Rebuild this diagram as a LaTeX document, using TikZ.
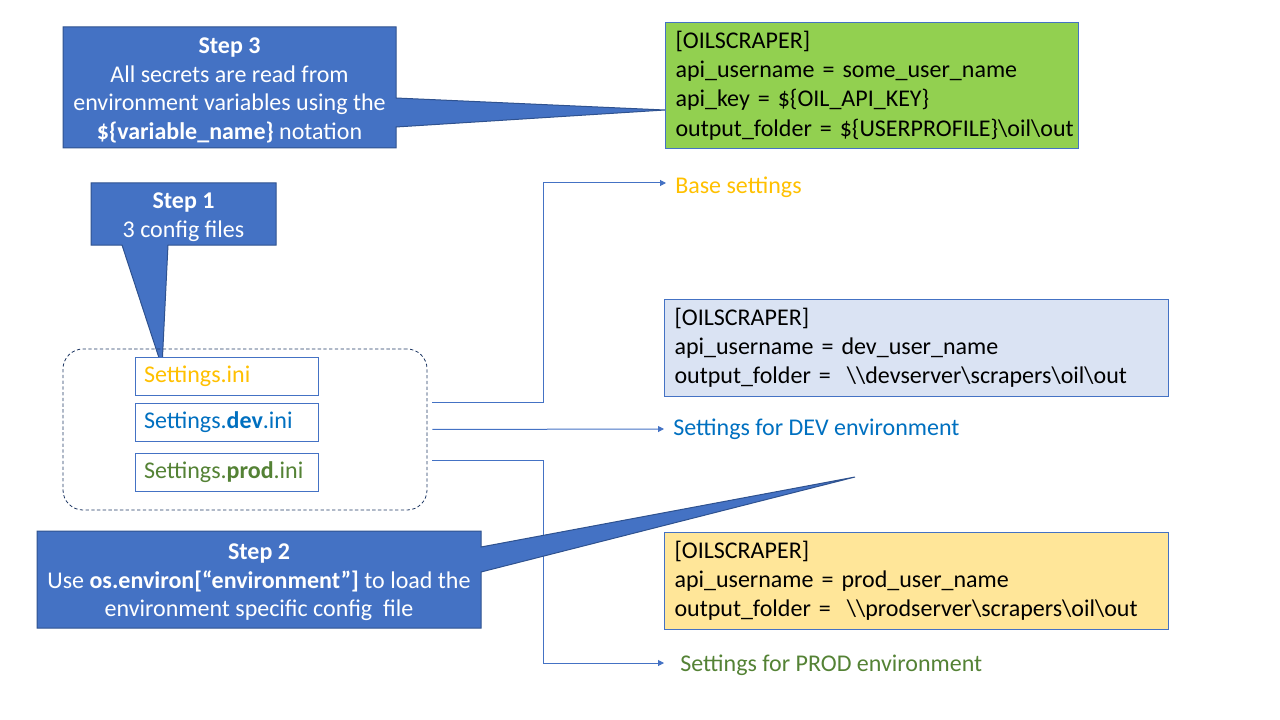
\documentclass[tikz,border=0pt]{standalone}
\usepackage{fontspec}
\setmainfont{Carlito}
\usepackage{xcolor}
\usetikzlibrary{positioning,arrows.meta,backgrounds}
\definecolor{callblue}{HTML}{4472C4}
\definecolor{callline}{HTML}{2F528F}
\definecolor{basegold}{HTML}{FFC000}
\definecolor{devblue}{HTML}{0070C0}
\definecolor{prodgreen}{HTML}{548235}
\definecolor{cfggreen}{HTML}{92D050}
\definecolor{cfgblue}{HTML}{DAE3F3}
\definecolor{cfgyellow}{HTML}{FFE699}
\definecolor{grpline}{HTML}{1F3864}
\tikzset{
	txt/.style={font=\fontsize{18}{21.5}\selectfont},
	stepbox/.style={txt,text=white,align=center,inner sep=0pt},
	callshape/.style={fill=callblue,draw=callline,line width=0.75pt},
	cfgbox/.style={txt,font=\fontsize{18}{21.9}\selectfont,draw=callblue,line width=0.75pt,align=left,anchor=north west,inner xsep=7.5pt,text width=#1},
	filebox/.style={txt,draw=callblue,fill=white,line width=0.75pt,align=left,inner xsep=6.75pt,text width=123.75pt,minimum height=28.5pt},
	envlabel/.style={txt,anchor=west,inner xsep=6.75pt},
	conn/.style={draw=callblue,line width=0.75pt,-{Triangle[length=4.5pt,width=4.5pt]}},
}
\begin{document}
\begin{tikzpicture}[x=0.75pt,y=-0.75pt]
	\useasboundingbox (0,0) rectangle (1280,720);
	% config files
	\node[draw=grpline,line width=0.6pt,dash pattern=on 2.5pt off 1.8pt,rounded corners=15pt,minimum width=273pt,minimum height=120.75pt] (grp) at (245,429.5) {};
	\node[filebox,text=basegold] (f1) at (226.5,376) {Settings.ini};
	\node[filebox,text=devblue] (f2) at (226.5,422) {Settings.\textbf{dev}.ini};
	\node[filebox,text=prodgreen] (f3) at (226.5,472) {Settings.\textbf{prod}.ini};
	%
	\node[envlabel,text=basegold] (base) at (666,187) {Base settings};
	\node[envlabel,text=devblue] (dev) at (664,429) {Settings for DEV environment};
	\node[envlabel,text=prodgreen,inner xsep=12pt] (prod) at (664,665) {Settings for PROD environment};
	%
	\node[cfgbox=294.75pt,fill=cfggreen,minimum height=94.5pt] (cfg) at (665,22)
		{[OILSCRAPER]\\api\_username = some\_user\_name\\api\_key = \$\{OIL\_API\_KEY\}\\\mbox{output\_folder = \$\{USERPROFILE\}\textbackslash oil\textbackslash out}};
	\node[cfgbox=363pt,fill=cfgblue,minimum height=72.75pt] (cfgdev) at (664,299)
		{[OILSCRAPER]\\api\_username = dev\_user\_name\\output\_folder = \ \textbackslash\textbackslash devserver\textbackslash scrapers\textbackslash oil\textbackslash out};
	\node[cfgbox=363pt,fill=cfgyellow,minimum height=72.75pt] (cfgprod) at (664,532)
		{[OILSCRAPER]\\api\_username = prod\_user\_name\\output\_folder = \ \textbackslash\textbackslash prodserver\textbackslash scrapers\textbackslash oil\textbackslash out};
	% callouts
	\node[stepbox] (s3) at (229.5,90.5) {\textbf{Step 3}\\All secrets are read from\\environment variables using the\\\textbf{\$\{variable\_name\}} notation};
	\node[stepbox] (s1) at (183.5,217) {\textbf{Step 1}\\3 config files};
	\node[stepbox] (s2) at (259,582.5) {\textbf{Step 2}\\Use \textbf{os.environ[“environment”]} to load the\\environment specific config\ \ file};
	\coordinate (t3) at (665,110);
	\coordinate (t1) at (162,367);
	\coordinate (t2) at (855,477);
	%
	\begin{scope}[on background layer]
	\draw[conn,shorten <=3.75pt] ([yshift=20pt]grp.east) -- ++(116,0) |- ([yshift=3pt]base.west);
	\draw[conn,shorten <=3.75pt] (grp.east) -- (dev.west);
	\draw[conn,shorten <=3.75pt] ([yshift=-23pt]grp.east) -- ++(116,0) |- ([yshift=1.5pt]prod.west);
	%
	\draw[callshape] (63,27) -- (396,27) -- (396,98) -- (t3) -- (396,127) -- (396,148) -- (63,148) -- cycle;
	\draw[callshape] (91,183) -- (276,183) -- (276,245) -- (168,245) -- (t1) -- (122,245) -- (91,245) -- cycle;
	\draw[callshape] (37,531) -- (481,531) -- (481,547) -- (t2) -- (481,572) -- (481,628) -- (37,628) -- cycle;
	\end{scope}
\end{tikzpicture}
\end{document}
